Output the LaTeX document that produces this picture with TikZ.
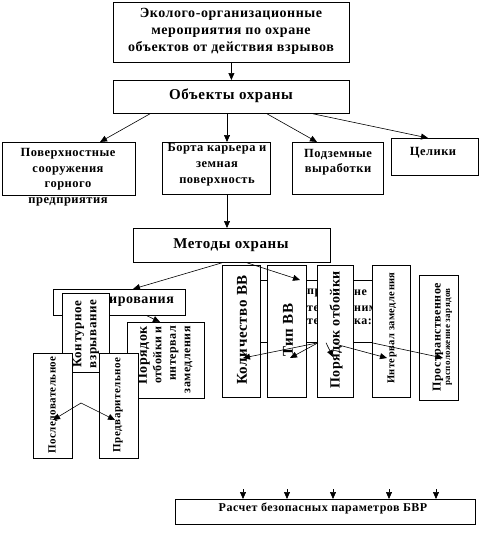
\documentclass[tikz,border=0pt]{standalone}
\usepackage{fontspec}
\setmainfont{Liberation Serif}[LetterSpace=4]
\usetikzlibrary{arrows.meta}
\begin{document}
\begin{tikzpicture}[x=1pt,y=-1pt,
  box/.style={draw, line width=0.8pt, fill=white, inner sep=0pt, anchor=north west},
  arr/.style={-{Triangle[length=7pt,width=6pt]}, line width=0.6pt},
  fs/.style 2 args={font=\fontsize{#1}{#2}\selectfont\bfseries},
  txt/.style={inner sep=0pt, align=center},
  vt/.style={txt, rotate=90}]
\useasboundingbox (0,0) rectangle (482,535);

% top part
\node[box, minimum width=236pt, minimum height=60pt] (top) at (113,2) {};
\node[txt, fs={14}{17}] (toptxt) at (231,31) {Эколого-организационные\\мероприятия по охране\\объектов от действия взрывов};
\node[box, minimum width=236pt, minimum height=33pt] (obj) at (113,80) {};
\node[txt, fs={15}{18}] (objtxt) at (231,96) {Объекты охраны};
\draw[arr] (top.south) -- (obj.north);

\node[box, minimum width=133pt, minimum height=53pt] (pov) at (2,142) {};
\node[txt, fs={12.5}{15.5}] (povtxt) at (68,177) {Поверхностные\\сооружения\\горного\\предприятия};
\node[box, minimum width=108pt, minimum height=52pt] (bort) at (162,142) {};
\node[txt, fs={12.5}{16}] (borttxt) at (217,165) {Борта карьера и\\земная\\поверхность};
\node[box, minimum width=91pt, minimum height=52pt] (podz) at (292,142) {};
\node[txt, fs={12.5}{15.5}] (podztxt) at (338,162) {Подземные\\выработки};
\node[box, minimum width=87pt, minimum height=37pt] (cel) at (391,138) {};
\node[txt, fs={12.5}{15.5}] (celtxt) at (433,153) {Целики};

\draw[arr] ([xshift=37pt]obj.south west) -- ([xshift=98pt]pov.north west);
\draw[arr] ([xshift=114pt]obj.south west) -- ([xshift=65pt]bort.north west);
\draw[arr] ([xshift=154pt]obj.south west) -- ([xshift=25pt]podz.north west);
\draw[arr] ([xshift=200pt]obj.south west) -- ([xshift=37pt]cel.north west);

\node[box, minimum width=197pt, minimum height=34pt] (met) at (133,228) {};
\node[txt, fs={15}{18}] (mettxt) at (231,245) {Методы охраны};
\draw[arr] ([xshift=65pt]bort.south west) -- ([xshift=94pt]met.north west);

% hidden box on the right
\node[box, minimum width=150pt, minimum height=62pt] (hid) at (240,280) {};
\node[txt, fs={12}{14}, anchor=west] (h1) at (307,293) {пр};
\node[txt, fs={12}{14}, anchor=west] (h2) at (307,309) {те};
\node[txt, fs={12}{14}, anchor=west] (h3) at (307,322) {те};
\node[txt, fs={12}{14}, anchor=west] (h4) at (354,293) {не};
\node[txt, fs={12}{14}, anchor=west] (h5) at (354,309) {ним};
\node[txt, fs={12}{14}, anchor=west] (h6) at (354,322) {ка:};

% left group
\node[box, minimum width=132pt, minimum height=26pt] (init) at (53,289) {};
\node[txt, fs={14}{16}, anchor=west] (inittxt) at (109,302) {ирования};
\node[box, minimum width=47pt, minimum height=79pt] (kont) at (62,293) {};
\node[vt, fs={13}{15}] (konttxt) at (86,334) {Контурное\\взрывание};
\node[box, minimum width=77pt, minimum height=76pt] (order) at (127,322) {};
\node[vt, fs={12}{14.5}, align=right, anchor=east] (ordertxt) at (165,326) {{\fontsize{14}{14.5}\selectfont Порядок}\\отбойки и\\интервал\\замедления};
\node[box, minimum width=39pt, minimum height=105pt] (posl) at (33,353) {};
\node[vt, fs={11}{13}] (posltxt) at (53,405) {Последовательное};
\node[box, minimum width=39pt, minimum height=105pt] (pred) at (99,353) {};
\node[vt, fs={11}{13}] (predtxt) at (118,405) {Предварительное};

% right group
\node[box, minimum width=38pt, minimum height=132pt] (kol) at (222,265) {};
\node[vt, fs={15}{17}] (koltxt) at (242,330) {Количество ВВ};
\node[box, minimum width=39pt, minimum height=132pt] (tip) at (267,265) {};
\node[vt, fs={15}{17}] (tiptxt) at (288,330) {Тип ВВ};
\node[box, minimum width=36pt, minimum height=132pt] (por) at (317,265) {};
\node[vt, fs={14}{16}] (portxt) at (336,330) {Порядок отбойки};
\node[box, minimum width=38pt, minimum height=132pt] (int) at (372,265) {};
\node[vt, fs={10.5}{12}] (inttxt) at (392,328) {Интервал замедления};
\node[box, minimum width=39pt, minimum height=125pt] (prs) at (419,275) {};
\node[vt, fs={12}{14}] (prs1) at (438,337) {Пространственное};
\node[vt, fs={9}{11}] (prs2) at (449,337) {расположение зарядов};

% arrows in the middle
\draw[arr] ([xshift=89pt]met.south west) -- ([xshift=80pt]init.north west);
\draw[arr] ([xshift=114pt]met.south west) -- ([xshift=60pt]hid.north west);
\draw[arr] ([xshift=94pt]init.south west) -- ([xshift=33pt]order.north west);

\coordinate (ap) at (81,403);
\coordinate (pa) at (53,420);
\coordinate (pb) at (115,420);
\draw[arr] (ap) -- (pa);
\draw[arr] (ap) -- (pb);

\coordinate (k1) at (243,358);
\coordinate (t1) at (290,358);
\coordinate (p1) at (333,357);
\coordinate (s3) at (335,344);
\coordinate (i1) at (387,358);
\coordinate (r1) at (443,358);
\draw[arr] ([xshift=78pt]hid.south west) -- (k1);
\draw[arr] ([xshift=78pt]hid.south west) -- (t1);
\draw[arr] ([xshift=86pt]hid.south west) -- (p1);
\draw[arr] (s3) -- (i1);
\draw[arr] ([xshift=132pt]hid.south west) -- (r1);

% bottom
\node[box, minimum width=300pt, minimum height=25pt] (bvr) at (175,499) {};
\node[txt, fs={12}{14}] (bvrtxt) at (323,508) {Расчет безопасных параметров БВР};
\foreach \i/\dx in {1/68,2/112,3/158,4/214,5/261}{
  \coordinate (st\i) at (175+\dx,489);
  \draw[arr] (st\i) -- ([xshift=\dx pt]bvr.north west);
}
\end{tikzpicture}
\end{document}
